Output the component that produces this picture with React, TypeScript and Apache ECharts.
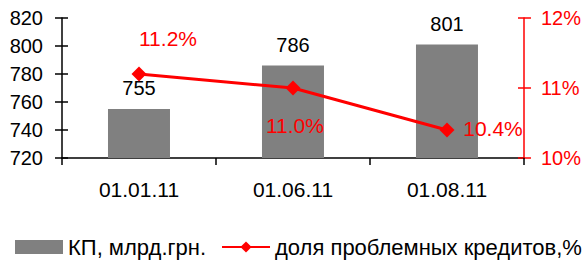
import React, { useEffect, useRef } from "react";
import * as echarts from "echarts";

const categories = ["01.01.11", "01.06.11", "01.08.11"];
const loans = [755, 786, 801];
const problemShare = [11.2, 11.0, 10.4];
const barName = "КП, млрд.грн.";
const lineName = "доля проблемных кредитов,%";

const FONT = "'Liberation Sans', Arial, sans-serif";

export default function App() {
  const ref = useRef<HTMLDivElement>(null);
  useEffect(() => {
    if (!ref.current) return;
    const chart = echarts.init(ref.current, null, { renderer: "svg" });
    const lineOffsets = [
      [29, -36],
      [2, 37],
      [46, -2],
    ];
    chart.setOption({
      animation: false,
      textStyle: { fontFamily: FONT },
      grid: { left: 62, right: 60, top: 18, bottom: 106, containLabel: false },
      legend: {
        left: 15,
        top: 236,
        padding: 0,
        itemWidth: 48,
        itemHeight: 14,
        itemGap: 15,
        textStyle: { fontSize: 22, color: "#000", fontFamily: FONT, padding: [0, 0, 0, 0] },
        data: [
          { name: barName, icon: "rect" },
          { name: lineName },
        ],
      },
      xAxis: {
        type: "category",
        data: categories,
        axisLine: { lineStyle: { color: "#000", width: 1.5 } },
        axisTick: { show: true, length: 7, lineStyle: { color: "#000", width: 1.5 } },
        axisLabel: { fontSize: 21, color: "#000", margin: 21, fontFamily: FONT },
      },
      yAxis: [
        {
          type: "value",
          min: 720,
          max: 820,
          interval: 20,
          position: "left",
          splitLine: { show: false },
          axisLine: { show: true, lineStyle: { color: "#000", width: 1.5 } },
          axisTick: { show: true, length: 7, lineStyle: { color: "#000", width: 1.5 } },
          axisLabel: { fontSize: 20, color: "#000", margin: 19, fontFamily: FONT },
        },
        {
          type: "value",
          min: 10,
          max: 12,
          interval: 1,
          position: "right",
          splitLine: { show: false },
          axisLine: { show: true, lineStyle: { color: "#ff0000", width: 1.5 } },
          axisTick: { show: true, length: 7, lineStyle: { color: "#ff0000", width: 1.5 } },
          axisLabel: {
            fontSize: 20,
            color: "#ff0000",
            margin: 17,
            fontFamily: FONT,
            formatter: (v: number) => `${v}%`,
          },
        },
        {
          type: "value",
          min: 720,
          max: 820,
          interval: 20,
          position: "left",
          splitLine: { show: false },
          axisLine: { show: false },
          axisTick: { show: true, inside: true, length: 6, lineStyle: { color: "#000", width: 1.5 } },
          axisLabel: { show: false },
        },
        {
          type: "value",
          min: 10,
          max: 12,
          interval: 1,
          position: "right",
          splitLine: { show: false },
          axisLine: { show: false },
          axisTick: { show: true, inside: true, length: 6, lineStyle: { color: "#ff0000", width: 1.5 } },
          axisLabel: { show: false },
        },
      ],
      series: [
        {
          name: barName,
          type: "bar",
          data: loans,
          barWidth: 62,
          itemStyle: { color: "#808080" },
          label: {
            show: true,
            position: "top",
            distance: 11,
            fontSize: 20,
            color: "#000",
            fontFamily: FONT,
          },
        },
        {
          name: lineName,
          type: "line",
          yAxisIndex: 1,
          data: problemShare.map((v, i) => ({
            value: v,
            label: { offset: lineOffsets[i] },
          })),
          symbol: "diamond",
          symbolSize: 15,
          lineStyle: { color: "#ff0000", width: 3 },
          itemStyle: { color: "#ff0000" },
          label: {
            show: true,
            position: "inside",
            fontSize: 21,
            color: "#ff0000",
            fontFamily: FONT,
            formatter: (p: any) => `${p.value.toFixed(1)}%`,
          },
        },
      ],
    });
    return () => chart.dispose();
  }, []);
  return (
    <div
      ref={ref}
      style={{ position: "absolute", left: 0, top: 0, width: 584, height: 264, background: "#fff" }}
    />
  );
}
